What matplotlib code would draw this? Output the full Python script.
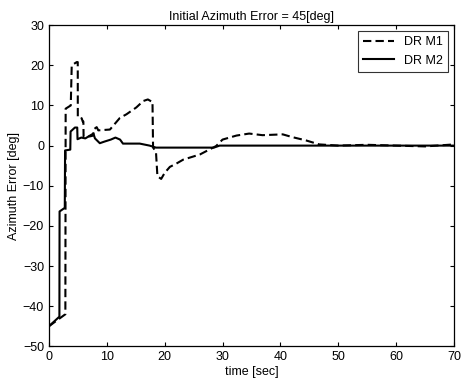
import matplotlib
matplotlib.use("Agg")
import matplotlib.pyplot as plt

plt.rcParams['font.family'] = ['Liberation Sans', 'DejaVu Sans']

# DR M1 (dashed)
t_m1 = [0, 2.85, 2.9, 3.78, 3.95, 4.81, 4.99, 5.0, 5.67, 5.85, 5.96, 6.0, 7.1, 7.68, 7.7, 8.26,
        8.54, 10.55, 12.27, 13.4, 15.1, 16.3, 17.1, 17.7, 17.9, 18.0, 18.5, 18.75, 19.4, 20.0,
        20.9, 22.0, 23.2, 26.1, 28.9, 30.0, 32.4, 34.6, 36.9, 40.4, 42.1, 44.4, 46.7, 50, 55,
        60, 65, 70]
y_m1 = [-45, -42, 9.2, 10, 20, 20.8, 20.8, 7, 6.8, 6, 6, 2.2, 2.3, 2.5, 4.0, 4.6,
        3.8, 4.0, 6.9, 7.8, 9.5, 11.1, 11.5, 11, 11, -0.5, -1.5, -7.6, -8.3, -6.8,
        -5.3, -4.5, -3.5, -2.2, -0.1, 1.5, 2.5, 3.0, 2.6, 2.8, 2.1, 1.3, 0.3, 0.0, 0.2,
        0.0, -0.2, 0.3]

# DR M2 (solid)
t_m2 = [0, 1.82, 1.85, 2.75, 2.8, 3.7, 3.75, 4.5, 4.9, 4.95, 5.6, 6.3, 7.1, 7.7, 7.96, 8.8,
        9.6, 10.7, 11.5, 12.3, 12.8, 15.7, 17.4, 18.5, 28.5, 29.5, 40, 50, 60, 70]
y_m2 = [-45, -42.6, -16.4, -15.5, -1.2, -1.0, 3.5, 4.5, 4.5, 1.6, 2.0, 1.8, 2.5, 3.0, 1.8, 0.6,
        1.0, 1.5, 2.0, 1.5, 0.5, 0.5, 0.0, -0.5, -0.5, 0.0, 0.0, 0.0, 0.0, 0.0]

x_ticks = [0, 10, 20, 30, 40, 50, 60, 70]
y_ticks = [-50, -40, -30, -20, -10, 0, 10, 20, 30]

fig = plt.figure(figsize=(4.61, 3.87), dpi=100)
ax = fig.add_axes([0.106, 0.105, 0.879, 0.830])

ax.plot(t_m1, y_m1, color='black', linestyle='--', dashes=(4, 2), linewidth=1.5, label='DR M1')
ax.plot(t_m2, y_m2, color='black', linestyle='-', linewidth=1.5, label='DR M2')

ax.set_xlim(0, 70)
ax.set_ylim(-50, 30)
ax.set_xticks(x_ticks)
ax.set_yticks(y_ticks)
ax.tick_params(direction='in', top=True, right=True, labelsize=9, length=3, width=0.8)
for s in ax.spines.values():
    s.set_linewidth(0.9)

ax.set_xlabel('time [sec]', fontsize=9, labelpad=2)
ax.set_ylabel('Azimuth Error [deg]', fontsize=9, labelpad=2)
ax.set_title('Initial Azimuth Error = 45[deg]', fontsize=9, pad=4)

leg = ax.legend(loc='upper right', fontsize=9, frameon=True, fancybox=False,
                edgecolor='black', handlelength=2.5, borderaxespad=0.5)
leg.get_frame().set_linewidth(0.8)

fig.savefig('out.png', dpi=100)
